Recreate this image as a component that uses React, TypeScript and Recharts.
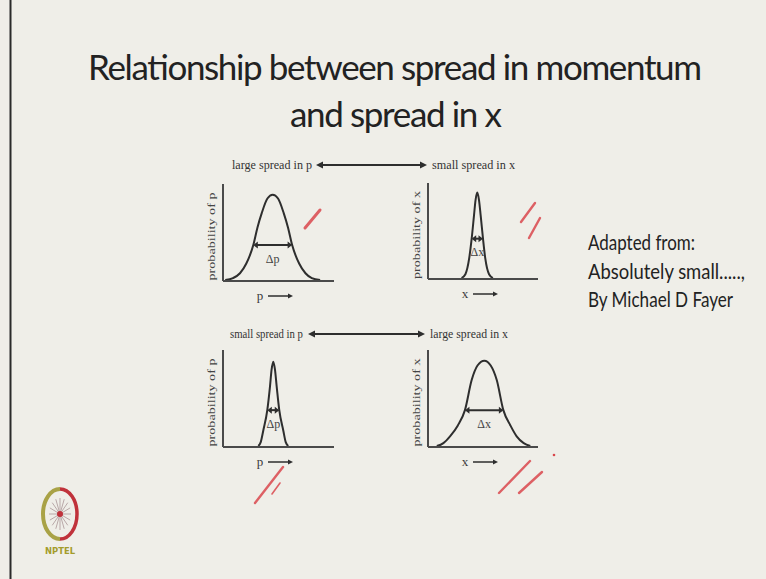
import React from "react";
import { LineChart, Line, XAxis, YAxis, ReferenceLine } from "recharts";

// bell curves (x and height on a 0–100 scale)
const wideMomentumX = [2, 9, 15.3, 21, 27.3, 31, 34.9, 40, 44.8, 49.6, 54.7, 58.6, 62.3, 68.6, 74.3, 80, 87.5];
const wideMomentumY = [1, 3, 8, 18, 37, 55, 70, 85, 89, 85, 70, 55, 37, 18, 8, 3, 1];

const narrowPositionX = [30.5, 34, 37.5, 39.7, 41.8, 43.2, 44.8, 46.4, 47.9, 50, 52, 55.5, 59];
const narrowPositionY = [1, 5, 22, 42, 66, 82, 90, 82, 66, 42, 22, 5, 1];

const narrowMomentumX = [31.8, 34, 36.3, 39.9, 42.3, 43.8, 45.3, 46.8, 48.4, 50.7, 54.3, 56.5, 58.8];
const narrowMomentumY = [1, 5, 17, 38, 62, 80, 88, 80, 62, 38, 17, 5, 1];

const widePositionX = [8, 14, 20, 27, 33.6, 39.7, 45, 51.2, 57, 62.5, 68.5, 75, 80.6, 87, 93];
const widePositionY = [1, 4, 11, 22, 38, 69, 84, 89, 84, 69, 38, 22, 11, 4, 1];

// width markers (Δp / Δx) per panel
const spreadFrom = [27.3, 39.7, 39.9, 33.6];
const spreadTo = [62.3, 50, 50.7, 68.5];
const spreadLevel = [37, 42, 38, 38];
const spreadLabels = ["Δp", "Δx", "Δp", "Δx"];

const yAxisLabels = ["probability of p", "probability of x", "probability of p", "probability of x"];
const xAxisLabels = ["p", "x", "p", "x"];

const headerRows = [
  ["large spread in p", "small spread in x"],
  ["small spread in p", "large spread in x"],
];

const titleLines = ["Relationship between spread in momentum", "and spread in x"];
const creditLines = ["Adapted from:", "Absolutely small.....,", "By Michael D Fayer"];

const toPoints = (xs: number[], ys: number[]) => xs.map((x, i) => ({ x, y: ys[i] }));

const curves = [
  toPoints(wideMomentumX, wideMomentumY),
  toPoints(narrowPositionX, narrowPositionY),
  toPoints(narrowMomentumX, narrowMomentumY),
  toPoints(widePositionX, widePositionY),
];

const panelBoxes = [
  { left: 193, top: 174, width: 151, height: 136 },
  { left: 398, top: 173, width: 150, height: 135 },
  { left: 193, top: 340, width: 151, height: 136 },
  { left: 398, top: 340, width: 150, height: 136 },
];

const SERIF = "'Liberation Serif', 'DejaVu Serif', serif";
const INK = "#2e2e2e";

const twoHeadArrow = (props: any) => {
  const { x1, y1, x2, y2 } = props;
  const h = 3.5;
  return (
    <g>
      <line x1={x1 + 2} y1={y1} x2={x2 - 2} y2={y2} stroke={INK} strokeWidth={2} />
      <polygon points={`${x1},${y1} ${x1 + h + 1},${y1 - h} ${x1 + h + 1},${y1 + h}`} fill={INK} />
      <polygon points={`${x2},${y2} ${x2 - h - 1},${y2 - h} ${x2 - h - 1},${y2 + h}`} fill={INK} />
    </g>
  );
};

const yLabel = (text: string) => (props: any) => {
  const vb = props.viewBox || { x: 0, y: 0, width: 0, height: 0 };
  const cx = vb.x + vb.width - 11;
  const cy = vb.y + vb.height / 2 + 4;
  return (
    <text
      x={cx}
      y={cy}
      transform={`rotate(-90, ${cx}, ${cy})`}
      textAnchor="middle"
      dominantBaseline="middle"
      fontFamily={SERIF}
      fontSize={11}
      fill="#444"
      textLength={88}
      lengthAdjust="spacingAndGlyphs"
    >
      {text}
    </text>
  );
};

const xLabel = (text: string) => (props: any) => {
  const vb = props.viewBox || { x: 0, y: 0, width: 0, height: 0 };
  const y = vb.y + 15;
  const a = vb.x + 45;
  const b = vb.x + 70;
  return (
    <g>
      <text x={vb.x + 37} y={y + 4} textAnchor="middle" fontFamily={SERIF} fontSize={13} fill="#3a3a3a" stroke="none">
        {text}
      </text>
      <line x1={a} y1={y} x2={b - 3} y2={y} stroke={INK} strokeWidth={1.5} />
      <polygon points={`${b},${y} ${b - 5},${y - 2.5} ${b - 5},${y + 2.5}`} fill={INK} />
    </g>
  );
};

function Panel({ index }: { index: number }) {
  const box = panelBoxes[index];
  return (
    <div style={{ position: "absolute", left: box.left, top: box.top }}>
      <LineChart
        width={box.width}
        height={box.height}
        data={curves[index]}
        margin={{ top: 10, right: 10, bottom: 28, left: 29 }}
      >
        <XAxis
          type="number"
          dataKey="x"
          domain={[0, 100]}
          height={1}
          tick={false}
          tickLine={false}
          axisLine={{ stroke: "#4a4a4a", strokeWidth: 2 }}
          label={{ content: xLabel(xAxisLabels[index]) }}
        />
        <YAxis
          type="number"
          domain={[0, 100]}
          width={1}
          tick={false}
          tickLine={false}
          axisLine={{ stroke: "#4a4a4a", strokeWidth: 2 }}
          label={{ content: yLabel(yAxisLabels[index]) }}
        />
        <Line
          type="monotone"
          dataKey="y"
          stroke={INK}
          strokeWidth={2}
          dot={false}
          isAnimationActive={false}
        />
        <ReferenceLine
          segment={[
            { x: spreadFrom[index], y: spreadLevel[index] },
            { x: spreadTo[index], y: spreadLevel[index] },
          ]}
          ifOverflow="visible"
          shape={twoHeadArrow}
          label={{
            value: spreadLabels[index],
            position: "bottom",
            offset: 9,
            fontFamily: SERIF,
            fontSize: 12,
            fill: "#444",
          }}
        />
      </LineChart>
    </div>
  );
}

function HeaderRow({ row, y, leftEnd, leftStart, rightStart, rightEnd, arrowFrom, arrowTo }: any) {
  const h = 3.5;
  return (
    <g fontFamily={SERIF} fontSize={13} fill="#333">
      <text x={leftStart} y={y} textLength={leftEnd - leftStart} lengthAdjust="spacingAndGlyphs">
        {row[0]}
      </text>
      <line x1={arrowFrom + 3} y1={y - 4} x2={arrowTo - 3} y2={y - 4} stroke={INK} strokeWidth={2} />
      <polygon points={`${arrowFrom},${y - 4} ${arrowFrom + 7},${y - 4 - h} ${arrowFrom + 7},${y - 4 + h}`} fill={INK} />
      <polygon points={`${arrowTo},${y - 4} ${arrowTo - 7},${y - 4 - h} ${arrowTo - 7},${y - 4 + h}`} fill={INK} />
      <text x={rightStart} y={y} textLength={rightEnd - rightStart} lengthAdjust="spacingAndGlyphs">
        {row[1]}
      </text>
    </g>
  );
}

function Slide() {
  const pen = { stroke: "#d9474c", strokeWidth: 2.4, strokeLinecap: "round" as const, fill: "none", opacity: 0.85 };
  const lx = 60;
  const ly = 514;
  return (
    <svg width={766} height={579} style={{ position: "absolute", left: 0, top: 0, pointerEvents: "none" }}>
      <line x1={10.5} y1={0} x2={10.5} y2={579} stroke="#2a2a2a" strokeWidth={2} />

      <g fontFamily="Lato, 'Open Sans', sans-serif" fill="#222">
        <text x={88} y={80} fontSize={35} textLength={614} lengthAdjust="spacing">
          {titleLines[0]}
        </text>
        <text x={290} y={127} fontSize={35} textLength={212} lengthAdjust="spacing">
          {titleLines[1]}
        </text>
        {creditLines.map((t, i) => (
          <text
            key={t}
            x={588}
            y={250 + i * 28.5}
            fontSize={20.5}
            textLength={[107, 157, 145][i]}
            lengthAdjust="spacingAndGlyphs"
          >
            {t}
          </text>
        ))}
      </g>

      <HeaderRow row={headerRows[0]} y={169} leftStart={232} leftEnd={312} arrowFrom={316} arrowTo={427} rightStart={432} rightEnd={515} />
      <HeaderRow row={headerRows[1]} y={338} leftStart={230} leftEnd={303} arrowFrom={308} arrowTo={425} rightStart={430} rightEnd={508} />

      {/* pen marks */}
      <path d="M305 228 L320 210" {...pen} strokeWidth={3} />
      <path d="M521 222 L535 203" {...pen} />
      <path d="M529 238 L540 218" {...pen} />
      <path d="M255 503 L283 467" {...pen} />
      <path d="M272 494 L280 483" {...pen} strokeWidth={1.6} />
      <path d="M499 493 L530 461" {...pen} />
      <path d="M519 493 L542 472" {...pen} />
      <circle cx={554} cy={455} r={1.3} fill="#d9474c" />

      {/* NPTEL emblem */}
      <g>
        <ellipse cx={lx} cy={ly} rx={17} ry={25} fill="none" stroke="#ddd8d0" strokeWidth={1} />
        <path d={`M${lx} ${ly - 25} A17 25 0 0 0 ${lx} ${ly + 25}`} fill="none" stroke="#a9a246" strokeWidth={4} />
        <path d={`M${lx} ${ly - 25} A17 25 0 0 1 ${lx} ${ly + 25}`} fill="none" stroke="#c0323b" strokeWidth={3.5} />
        {[0, 22.5, 45, 67.5, 90, 112.5, 135, 157.5].map((a) => {
          const r = (a * Math.PI) / 180;
          return (
            <line
              key={a}
              x1={lx - Math.cos(r) * 11}
              y1={ly - Math.sin(r) * 16}
              x2={lx + Math.cos(r) * 11}
              y2={ly + Math.sin(r) * 16}
              stroke="#b9a8a8"
              strokeWidth={1}
            />
          );
        })}
        <circle cx={lx} cy={ly} r={3} fill="#c0323b" />
        <text x={lx} y={554} textAnchor="middle" fontFamily="'DejaVu Sans', sans-serif" fontWeight="bold" fontSize={9} fill="#a39c2c" textLength={30} lengthAdjust="spacingAndGlyphs">
          NPTEL
        </text>
      </g>
    </svg>
  );
}

export default function App() {
  return (
    <div
      style={{
        position: "fixed",
        left: 0,
        top: 0,
        width: 766,
        height: 579,
        background: "#efeee8",
        overflow: "hidden",
      }}
    >
      {[0, 1, 2, 3].map((i) => (
        <Panel key={i} index={i} />
      ))}
      <Slide />
    </div>
  );
}
